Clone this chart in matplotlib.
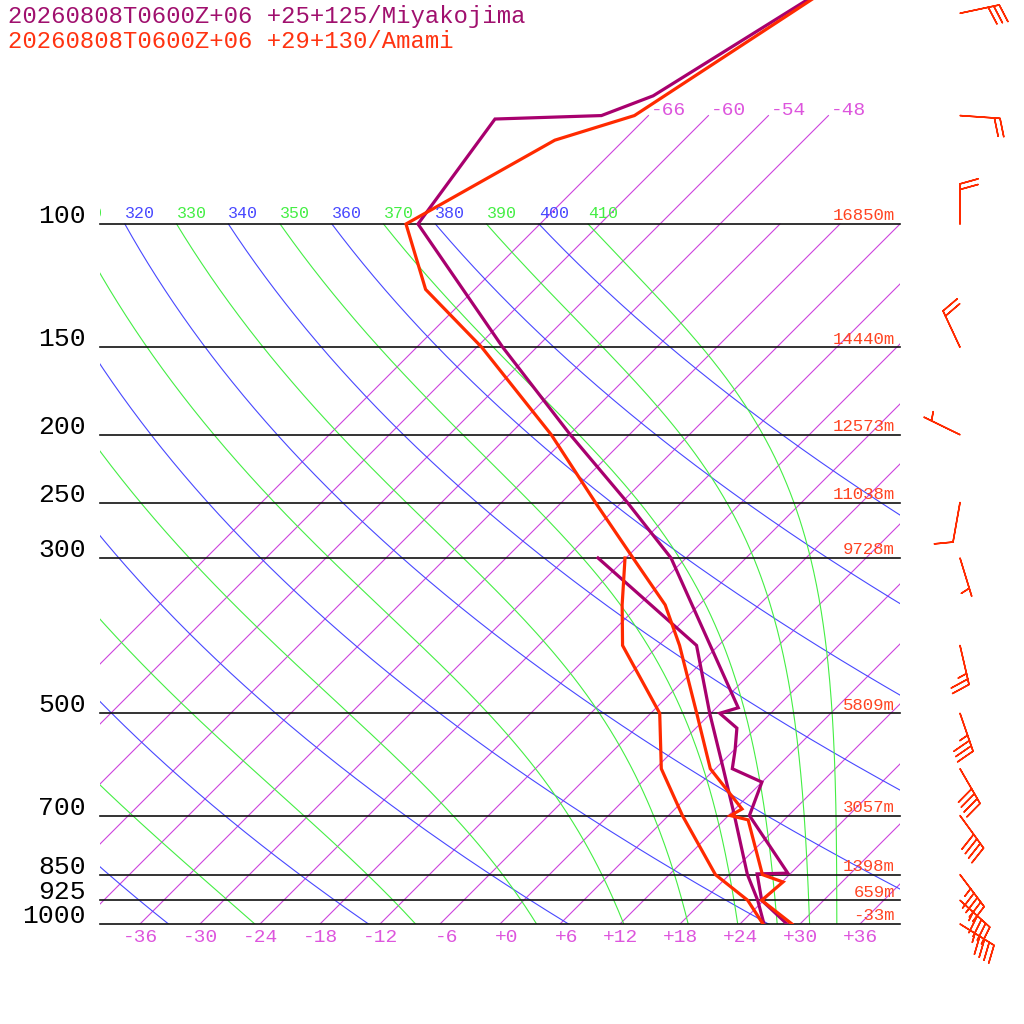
import numpy as np
import matplotlib
matplotlib.use("Agg")
import matplotlib.pyplot as plt
import matplotlib.transforms as mtransforms

# --- sounding data (pressure hPa, temperature degC) ---
mk_p = [40, 50, 65.6, 70, 70.8, 100, 150, 200, 250, 300, 491, 500, 525, 564,
        600, 627, 700, 846, 848, 925, 1000]
mk_t = [-58.4, -62.5, -67.5, -70.7, -81.0, -78.2, -57.4, -41.9, -29.4, -19.5,
        2.2, 0.9, 4.1, 6.1, 7.7, 12.0, 14.1, 23.7, 20.7, 23.8, 28.7]
mk_dp = [300, 400, 500, 600, 700, 850, 925, 1000]
mk_td = [-26.8, -8.2, -0.1, 6.8, 12.6, 19.8, 23.4, 26.4]

am_p = [30, 50, 70, 75.9, 100, 124, 150, 200, 250, 300, 350, 400, 500, 600,
        685, 700, 710, 850, 871, 925, 1000]
am_t = [-53.9, -62.0, -67.4, -72.9, -79.4, -70.9, -59.5, -43.8, -32.6, -23.3,
        -15.4, -9.9, -1.4, 5.5, 12.7, 12.2, 14.4, 21.3, 24.1, 23.8, 29.2]
am_dp = [300, 350, 400, 500, 600, 700, 850, 925, 1000]
am_td = [-24.1, -19.7, -15.6, -5.1, 0.6, 7.4, 16.6, 22.4, 26.3]

# Amami winds
wind_p = [50, 70, 100, 150, 200, 250, 300, 400, 500, 600, 700, 850, 925, 1000]
wind_dir = [78, 94, 0, 335, 296, 190, 163, 167, 161, 150, 144, 143, 132, 122]
wind_spd = [30, 20, 20, 20, 5, 10, 5, 25, 35, 40, 40, 45, 45, 45]

# chart furniture
levels = [100, 150, 200, 250, 300, 500, 700, 850, 925, 1000]
level_labels = ["100", "150", "200", "250", "300", "500", "700", "850", "925", "1000"]
heights = ["16850m", "14440m", "12573m", "11038m", "9728m", "5809m", "3057m",
           "1398m", "659m", "-33m"]
isotherms = list(range(-66, 37, 6))
top_labelled = [-66, -60, -54, -48]
bottom_ticks = list(range(-36, 37, 6))
dry_thetas = list(range(240, 401, 20))
moist_thetas = list(range(250, 411, 20))

title1 = "20260808T0600Z+06 +25+125/Miyakojima"
title2 = "20260808T0600Z+06 +29+130/Amami"

PURPLE = "#A8006E"
RED = "#FF2A00"
MAGENTA = "#CC44DD"
BLUE = "#4848FF"
GREEN = "#44EE44"
MONO = "Liberation Mono"

W = H = 1024.0
fig = plt.figure(figsize=(10.24, 10.24), dpi=100)
ax = fig.add_axes([100 / W, 100 / H, 800 / W, 924 / H])
p_top = 1000 / 10 ** (924 / 700)
ax.set_yscale("log")
ax.set_xlim(-40, 40)
ax.set_ylim(1000, p_top)
ax.set_autoscale_on(False)
ax.set_axis_off()

# 45 degree skew in pixel space
k = 924 / 800
skew = (ax.transScale + ax.transLimits
        + mtransforms.Affine2D(np.array([[1, k, 0], [0, 1, 0], [0, 0, 1]]))
        + ax.transAxes)


def theta_e(tk, p):
    es = 6.112 * np.exp(17.67 * (tk - 273.15) / (tk - 29.65))
    rs = 0.622 * es / np.maximum(p - es, 1e-3)
    return tk * (1000 / p) ** 0.286 * np.exp(2.6e6 * rs / (1004 * tk))


def visible_at_100(t100):
    # only label curves whose 100 hPa crossing is near the plotted area
    xpix = skew.transform((t100, 100))[0]
    return xpix > ax.bbox.x0 - 30


pp = np.geomspace(1000, 100, 160)
tgrid = np.linspace(-130, 45, 1200) + 273.15

# isotherms
iso_tr = mtransforms.offset_copy(skew, fig, x=2, y=5, units="dots")
for t in isotherms:
    top = 70 if t in top_labelled else 100
    ax.plot([t, t], [1000, top], transform=skew, color=MAGENTA, lw=0.8)
    if t in top_labelled:
        ax.text(t, 70, f"{t:d}", transform=iso_tr, ha="left", va="center",
                color="#DD55DD", fontsize=14, family=MONO, clip_on=True)

# dry adiabats
lab_tr = mtransforms.offset_copy(skew, fig, x=0, y=11, units="dots")
for th in dry_thetas:
    tt = th * (pp / 1000) ** 0.286 - 273.15
    ax.plot(tt, pp, transform=skew, color=BLUE, lw=0.8)
    if visible_at_100(tt[-1]):
        ax.text(tt[-1], 100, str(th), transform=lab_tr, ha="left", va="center",
                color=BLUE, fontsize=12, family=MONO, clip_on=True)

# moist adiabats
for th in moist_thetas:
    tt = np.array([np.interp(th, theta_e(tgrid, p), tgrid) for p in pp]) - 273.15
    ax.plot(tt, pp, transform=skew, color=GREEN, lw=0.8)
    if visible_at_100(tt[-1]):
        ax.text(tt[-1], 100, str(th), transform=lab_tr, ha="left", va="center",
                color=GREEN, fontsize=12, family=MONO, clip_on=True)

# pressure lines and labels
hl_tr = mtransforms.offset_copy(
    mtransforms.blended_transform_factory(ax.transAxes, ax.transData),
    fig, x=0, y=8, units="dots")
for p, lab, h in zip(levels, level_labels, heights):
    ax.axhline(p, color="#111111", lw=1.2, clip_on=False)
    ax.text(-14 / 800, p, lab, transform=hl_tr, ha="right", va="center",
            fontsize=19, family=MONO, color="black")
    ax.text(795 / 800, p, h, transform=hl_tr, ha="right", va="center",
            fontsize=12.5, family=MONO, color="#FF4422")

# bottom temperature labels
bt_tr = mtransforms.offset_copy(ax.transData, fig, x=18, y=-13, units="dots")
for t in bottom_ticks:
    ax.text(t, 1000, f"{t:+d}", transform=bt_tr, ha="right", va="center",
            fontsize=14, family=MONO, color="#DD55DD")

# profiles
ax.plot(mk_t, mk_p, transform=skew, color=PURPLE, lw=2.3, solid_joinstyle="miter")
ax.plot(mk_td, mk_dp, transform=skew, color=PURPLE, lw=2.3, solid_joinstyle="miter")
ax.plot(am_t, am_p, transform=skew, color=RED, lw=2.3, solid_joinstyle="miter")
ax.plot(am_td, am_dp, transform=skew, color=RED, lw=2.3, solid_joinstyle="miter")

# titles
fig.text(8 / W, 1 - 17 / H, title1, ha="left", va="center", fontsize=17.2,
         family=MONO, color="#A0106E")
fig.text(8 / W, 1 - 41 / H, title2, ha="left", va="center", fontsize=17.2,
         family=MONO, color="#FF3311")

# wind barbs
bx = fig.add_axes([900 / W, 100 / H, 124 / W, 924 / H])
bx.set_yscale("log")
bx.set_xlim(0, 124)
bx.set_ylim(1000, p_top)
bx.set_axis_off()
rad = np.deg2rad(wind_dir)
u = -np.array(wind_spd) * np.sin(rad)
v = -np.array(wind_spd) * np.cos(rad)
bx.barbs(np.full(len(wind_p), 60.0), wind_p, u, v, length=7.6, color=RED,
         linewidth=1.1, clip_on=False,
         sizes=dict(spacing=0.14, height=0.45, width=0.25, emptybarb=0.0))

fig.savefig("out.png", dpi=100)
